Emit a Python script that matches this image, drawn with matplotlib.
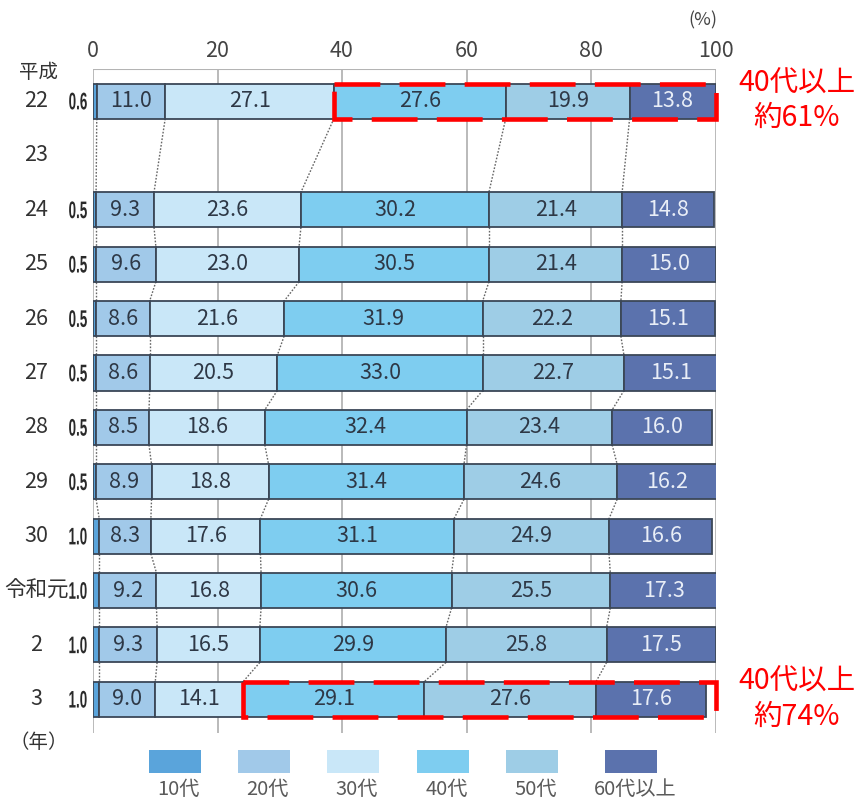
import numpy as np
import matplotlib.pyplot as plt
from matplotlib.patches import Rectangle, PathPatch
from matplotlib.textpath import TextPath
from matplotlib.font_manager import FontProperties
from matplotlib import transforms

plt.rcParams['font.family'] = ['Noto Sans CJK JP', 'DejaVu Sans']

# Survey years (Heisei 22 .. Reiwa 3); year 23 has no data
years = ["22", "23", "24", "25", "26", "27", "28", "29", "30", "令和元", "2", "3"]
groups = ["10代", "20代", "30代", "40代", "50代", "60代以上"]

teens = [0.6, np.nan, 0.5, 0.5, 0.5, 0.5, 0.5, 0.5, 1.0, 1.0, 1.0, 1.0]
twenties = [11.0, np.nan, 9.3, 9.6, 8.6, 8.6, 8.5, 8.9, 8.3, 9.2, 9.3, 9.0]
thirties = [27.1, np.nan, 23.6, 23.0, 21.6, 20.5, 18.6, 18.8, 17.6, 16.8, 16.5, 14.1]
forties = [27.6, np.nan, 30.2, 30.5, 31.9, 33.0, 32.4, 31.4, 31.1, 30.6, 29.9, 29.1]
fifties = [19.9, np.nan, 21.4, 21.4, 22.2, 22.7, 23.4, 24.6, 24.9, 25.5, 25.8, 27.6]
sixties = [13.8, np.nan, 14.8, 15.0, 15.1, 15.1, 16.0, 16.2, 16.6, 17.3, 17.5, 17.6]

colors = ["#5aa4db", "#a1c9e9", "#c9e7f8", "#7ecdf0", "#9ecde6", "#5b72ad"]
edge = "#3b4757"
txt = "#2e3846"

data = np.array([teens, twenties, thirties, forties, fifties, sixties])
n = len(years)
ypos = np.arange(n)
bar_h = 0.645
W, H = 864, 800

fig = plt.figure(figsize=(W / 100, H / 100), dpi=100)
ax = fig.add_axes([93 / W, 1 - 733 / H, (715.5 - 93) / W, (733 - 69) / H])
ax.set_xlim(0, 100)
ax.set_ylim(11.62, -0.59)

# grid and frame
for x in [0, 20, 40, 60, 80, 100]:
    ax.axvline(x, color="#b4b4b4", lw=1.3, zorder=0)
ax.axhline(-0.59, color="#b4b4b4", lw=1.5, zorder=0)
for s in ax.spines.values():
    s.set_visible(False)
ax.set_yticks([])
ax.xaxis.tick_top()
ax.set_xticks([0, 20, 40, 60, 80, 100])
ax.tick_params(axis="x", length=0, pad=5, labelsize=15.5, labelcolor="#444444")
fig.text(703 / W, 1 - 20 / H, "(%)", ha="center", va="center", fontsize=13, color="#444444")

# stacked bars
left = np.zeros(n)
for i, g in enumerate(groups):
    vals = np.nan_to_num(data[i])
    has = ~np.isnan(data[i])
    ax.barh(ypos[has], vals[has], left=left[has], height=bar_h, color=colors[i],
            edgecolor=edge, linewidth=1.3, zorder=2)
    if i > 0:
        for y, v, l in zip(ypos[has], vals[has], left[has]):
            c = "#e9eef7" if i == 5 else txt
            ax.text(l + v / 2, y, f"{v:.1f}", ha="center", va="center",
                    fontsize=15.5, color=c, zorder=4)
    left = left + vals

# dotted connectors between consecutive bars
rows = [r for r in range(n) if not np.isnan(data[0][r])]
cum = np.nancumsum(data, axis=0)
for a, b in zip(rows[:-1], rows[1:]):
    for k in range(5):
        ax.plot([cum[k][a], cum[k][b]], [a + bar_h / 2, b - bar_h / 2],
                ls=(0, (1.2, 1.2)), color="#666666", lw=1.0, zorder=1)

# year labels
tr = transforms.blended_transform_factory(fig.transFigure, ax.transData)
for y, lab in zip(ypos, years):
    fig.text(36 / W, y, lab, transform=tr, ha="center", va="center",
             fontsize=15.5, color="#333333")
fig.text(38 / W, 1 - 72 / H, "平成", ha="center", va="center", fontsize=14, color="#333333")
fig.text(39 / W, 1 - 743 / H, "（年）", ha="center", va="center", fontsize=14, color="#333333")

# 10代 values in narrow type, left of the bars
narrow = FontProperties(family="Liberation Sans", weight="bold")
for y in ypos:
    if np.isnan(teens[y]):
        continue
    p = TextPath((0, 0), f"{teens[y]:.1f}", size=24, prop=narrow)
    ext = p.get_extents()
    cy = ax.transData.transform((0, y))[1]
    t = transforms.Affine2D().translate(-(ext.x0 + ext.x1) / 2, -(ext.y0 + ext.y1) / 2) \
        .scale(0.56, 1.0).translate(78, cy)
    fig.add_artist(PathPatch(p, transform=t, facecolor="#2a2a2a", edgecolor="none"))

# highlight boxes for 40代 and over
for r in [0, 11]:
    start = cum[2][r]
    share = forties[r] + fifties[r] + sixties[r]
    ax.add_patch(Rectangle((start, r - bar_h / 2), 100 - start, bar_h, fill=False,
                           edgecolor="#ff0000", lw=3.3, ls=(0, (10, 4.2)),
                           zorder=5, clip_on=False))
    fig.text(797 / W, r, f"40代以上\n約{share:.0f}%", transform=tr, ha="center",
             va="center", fontsize=20.5, color="#ff0000", linespacing=1.2)

# legend
lx = [174.5, 263.5, 352.5, 442.5, 531.5, 631]
for x, g, c in zip(lx, groups, colors):
    fig.patches.append(Rectangle(((x - 26) / W, 1 - 773 / H), 52 / W, 23 / H,
                                 transform=fig.transFigure, facecolor=c, edgecolor="none"))
    fig.text((x + 4) / W, 1 - 789 / H, g, ha="center", va="center", fontsize=14.5, color="#5a5a5a")

fig.savefig("out.png", dpi=100)
